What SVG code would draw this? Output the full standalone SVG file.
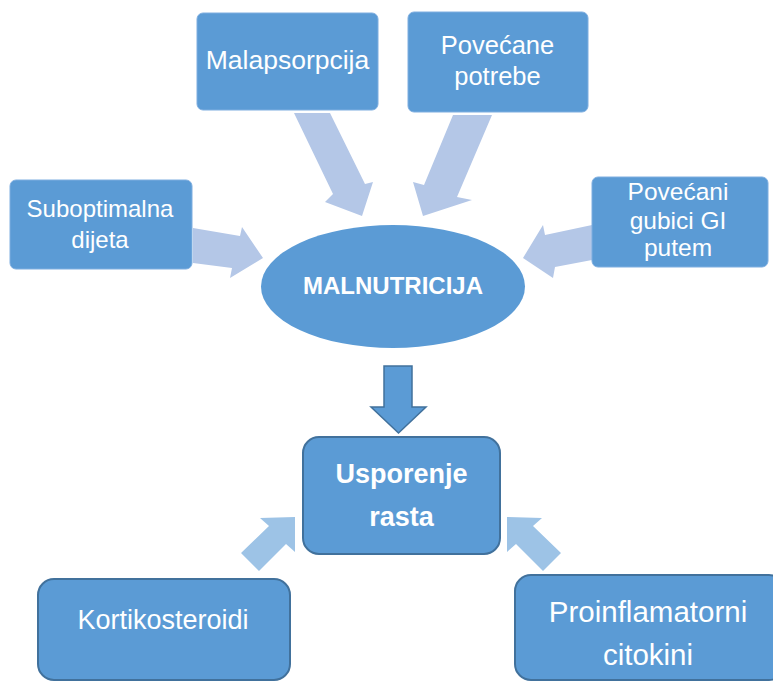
<svg xmlns="http://www.w3.org/2000/svg" width="773" height="682" viewBox="0 0 773 682">
<style>
.box{fill:#5b9bd5;stroke:#7eaee0;stroke-width:1}
.bbox{fill:#5b9bd5;stroke:#41719c;stroke-width:2}
.t{font-family:"Liberation Sans",Arial,sans-serif;fill:#ffffff;text-anchor:middle}
.b{font-weight:bold}
.la{fill:#b4c7e7}
.lb{fill:#9dc3e6}
.da{fill:#5b9bd5;stroke:#41719c;stroke-width:1.5}
</style>
<rect width="773" height="682" fill="#ffffff"/>
<g id="connectors">
<polygon class="la" points="294,113 330,113 365,184 373,182 362,216 325,202 333,194"/>
<polygon class="la" points="453,115 492,115 457,197 472,200 423,216 413,182 424,185"/>
<polygon class="la" points="193,228 240,236 242,227 263,258 230,278 232,268 193,263"/>
<polygon class="la" points="592,225 545,235 543,225 523,258 553,278 555,267 592,260"/>
<polygon class="da" points="384,366 412,366 412,407 426,407 398.5,433 371,407 384,407"/>
<polygon class="lb" points="241,553 269,526 260,518 295,517 295,552 286,544 259,571"/>
<polygon class="lb" points="561,553 533,526 542,518 507,517 507,552 516,544 543,571"/>
</g>
<g id="malapsorpcija">
<rect class="box" x="197" y="13" width="181" height="97" rx="6"/>
<text class="t" x="287.5" y="69" font-size="26.5">Malapsorpcija</text>
</g>
<g id="povecane-potrebe">
<rect class="box" x="408" y="12" width="180" height="100" rx="6"/>
<text class="t" x="497.5" y="54" font-size="25.5">Povećane</text>
<text class="t" x="497.5" y="85" font-size="25.5">potrebe</text>
</g>
<g id="suboptimalna-dijeta">
<rect class="box" x="10" y="180" width="182" height="89" rx="6"/>
<text class="t" x="100" y="217" font-size="24">Suboptimalna</text>
<text class="t" x="100" y="248" font-size="24">dijeta</text>
</g>
<g id="povecani-gubici">
<rect class="box" x="592" y="177" width="176" height="90" rx="6"/>
<text class="t" x="678" y="200" font-size="24.5">Povećani</text>
<text class="t" x="678" y="229" font-size="24.5">gubici GI</text>
<text class="t" x="678" y="256" font-size="24.5">putem</text>
</g>
<g id="malnutricija">
<ellipse cx="393" cy="286.5" rx="132" ry="61.5" fill="#5b9bd5"/>
<text class="t b" x="393" y="294" font-size="24">MALNUTRICIJA</text>
</g>
<g id="usporenje-rasta">
<rect class="bbox" x="303" y="437" width="197" height="117" rx="16"/>
<text class="t b" x="401.5" y="483" font-size="27">Usporenje</text>
<text class="t b" x="401.5" y="526" font-size="27">rasta</text>
</g>
<g id="kortikosteroidi">
<rect class="bbox" x="38" y="579" width="252" height="101" rx="16"/>
<text class="t" x="163" y="629" font-size="27">Kortikosteroidi</text>
</g>
<g id="proinflamatorni-citokini">
<rect class="bbox" x="515" y="575" width="270" height="105" rx="16"/>
<text class="t" x="648" y="622" font-size="29.5">Proinflamatorni</text>
<text class="t" x="648" y="665" font-size="29.5">citokini</text>
</g>
</svg>
